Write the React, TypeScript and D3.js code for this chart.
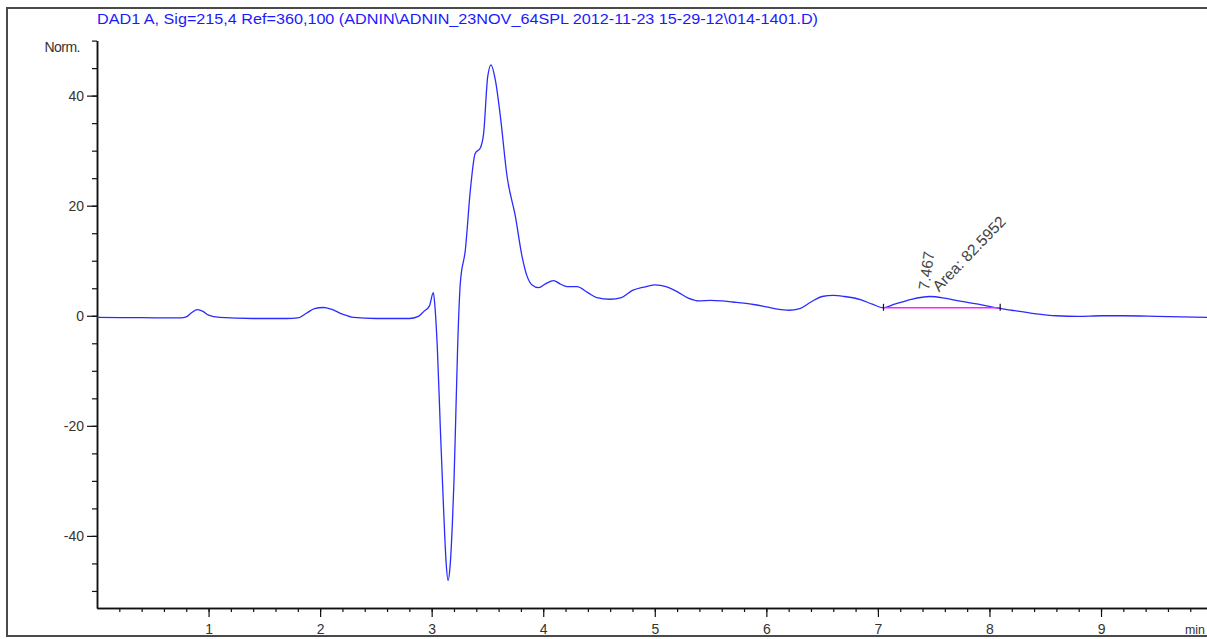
import React, { useEffect, useRef } from 'react';
import * as d3 from 'd3';

// signal trace (time in min, absorbance in mAU)
const times = [
  0, 0.4, 0.75, 0.8, 0.85, 0.9, 0.95, 1.0, 1.1, 1.4, 1.7, 1.8, 1.88, 1.95, 2.03, 2.1, 2.2, 2.3, 2.5, 2.8,
  2.88, 2.93, 2.98, 3.015, 3.03, 3.05, 3.078, 3.108, 3.13, 3.147, 3.165, 3.185, 3.2, 3.213, 3.233, 3.257, 3.302,
  3.347, 3.39, 3.436, 3.466, 3.502, 3.532, 3.571, 3.616, 3.676, 3.75, 3.81, 3.855, 3.9, 3.96, 4.02, 4.093,
  4.15, 4.213, 4.303, 4.4, 4.48, 4.6, 4.7, 4.8, 4.9, 5.0, 5.1, 5.2, 5.3, 5.4, 5.5, 5.6, 5.7, 5.8, 5.9, 6.0,
  6.1, 6.2, 6.3, 6.4, 6.5, 6.6, 6.7, 6.85, 6.95, 7.05, 7.15, 7.3, 7.467, 7.6, 7.75, 7.9, 8.05, 8.2,
  8.4, 8.6, 8.8, 9.0, 9.2, 9.5, 9.95,
];
const signal = [
  -0.3, -0.35, -0.4, -0.2, 0.6, 1.1, 0.8, 0.1, -0.3, -0.5, -0.5, -0.4, 0.5, 1.3, 1.5, 1.2, 0.3, -0.3, -0.5, -0.5,
  -0.1, 0.8, 1.8, 4.2, 1.5, -5.5, -20.6, -35.7, -45, -48.1, -45.5, -38, -30, -20.6, -5.5, 6.0, 12.0,
  22.9, 29.5, 30.5, 33.2, 43.4, 45.6, 42.8, 36.2, 25.3, 18.1, 10.8, 7.2, 5.6, 5.1, 5.8, 6.4,
  5.8, 5.3, 5.3, 4.2, 3.3, 3.0, 3.3, 4.6, 5.2, 5.6, 5.3, 4.4, 3.2, 2.7, 2.8, 2.7, 2.5, 2.3, 2.0, 1.6,
  1.2, 1.0, 1.3, 2.5, 3.5, 3.7, 3.5, 2.9, 2.1, 1.45, 2.1, 3.0, 3.5, 3.2, 2.6, 2.1, 1.5, 1.0,
  0.4, 0.0, -0.1, 0.0, 0.0, -0.1, -0.3,
];

// integrated peak
const peakStart = [7.05, 1.45];
const peakEnd = [8.096, 1.45];
const peakRT = '7.467';
const peakArea = 'Area: 82.5952';
const peakTop = [7.467, 3.5];

const xMajor = [1, 2, 3, 4, 5, 6, 7, 8, 9];
const yMajor = [-40, -20, 0, 20, 40];

const title = 'DAD1 A, Sig=215,4 Ref=360,100 (ADNIN\\ADNIN_23NOV_64SPL 2012-11-23 15-29-12\\014-1401.D)';

const W = 1207;
const H = 639;
const FONT = '"Liberation Sans Narrow", "Liberation Sans", Arial, sans-serif';

const App = () => {
  const svgRef = useRef<SVGSVGElement>(null);

  useEffect(() => {
    const svg = d3.select(svgRef.current);
    svg.selectAll('*').remove();

    const x = d3.scaleLinear().domain([0, 9.95]).range([97, 1207]);
    const y = d3.scaleLinear().domain([-53.1, 50]).range([608, 40.6]);

    // outer frame
    svg.append('rect')
      .attr('x', 7).attr('y', 8).attr('width', 1215).attr('height', 628)
      .attr('fill', 'none').attr('stroke', '#4a4a4a').attr('stroke-width', 2);

    svg.append('text')
      .attr('x', 97).attr('y', 24)
      .attr('textLength', 721).attr('lengthAdjust', 'spacingAndGlyphs')
      .style('font-family', FONT).style('font-size', '14px')
      .attr('fill', '#1a1aff')
      .text(title);

    // y axis: minor then major
    const yMinor = d3.range(-50, 51, 5);
    const gy = svg.append('g').attr('transform', 'translate(97,0)');
    gy.call(d3.axisLeft(y).tickValues(yMinor).tickSize(5).tickFormat(() => '').tickSizeOuter(0));
    gy.append('g').call(d3.axisLeft(y).tickValues(yMajor).tickSize(10).tickPadding(3).tickSizeOuter(0)
      .tickFormat(d => String(d)));
    gy.selectAll('path.domain').attr('stroke', '#111').attr('stroke-width', 1.5);
    gy.selectAll('line').attr('stroke', '#111').attr('stroke-width', 1.2);
    gy.selectAll('text')
      .style('font-family', FONT).style('font-size', '14px').attr('fill', '#333');

    svg.append('text')
      .attr('x', 80).attr('y', 52).attr('text-anchor', 'end')
      .style('font-family', FONT).style('font-size', '14px').style('letter-spacing', '-0.5px').attr('fill', '#333')
      .text('Norm.');

    // x axis: minor then major
    const xMinorT = d3.range(0.2, 9.95, 0.2);
    const gx = svg.append('g').attr('transform', 'translate(0,608)');
    gx.call(d3.axisBottom(x).tickValues(xMinorT).tickSize(4).tickFormat(() => '').tickSizeOuter(0));
    gx.append('g').call(d3.axisBottom(x).tickValues(xMajor).tickSize(9).tickPadding(7).tickSizeOuter(0)
      .tickFormat(d => String(d)));
    gx.selectAll('path.domain').attr('stroke', '#111').attr('stroke-width', 1.5);
    gx.selectAll('line').attr('stroke', '#111').attr('stroke-width', 1.2);
    gx.selectAll('text')
      .style('font-family', FONT).style('font-size', '14px').attr('fill', '#333');

    svg.append('text')
      .attr('x', 1185).attr('y', 634)
      .attr('textLength', 20).attr('lengthAdjust', 'spacingAndGlyphs')
      .style('font-family', FONT).style('font-size', '13px').attr('fill', '#333')
      .text('min');

    // signal
    const pts = times.map((t, i) => [t, signal[i]] as [number, number]);
    const line = d3.line<[number, number]>()
      .x(d => x(d[0]))
      .y(d => y(d[1]))
      .curve(d3.curveMonotoneX);
    svg.append('path')
      .datum(pts)
      .attr('d', line)
      .attr('fill', 'none')
      .attr('stroke', '#2b2bff')
      .attr('stroke-width', 1.3);

    // integration baseline
    svg.append('line')
      .attr('x1', x(peakStart[0])).attr('y1', y(peakStart[1]))
      .attr('x2', x(peakEnd[0])).attr('y2', y(peakEnd[1]))
      .attr('stroke', '#ff22ff').attr('stroke-width', 1.5);
    [peakStart, peakEnd].forEach(p => {
      svg.append('line')
        .attr('x1', x(p[0])).attr('x2', x(p[0]))
        .attr('y1', y(p[1]) - 4).attr('y2', y(p[1]) + 3)
        .attr('stroke', '#111').attr('stroke-width', 1.2);
    });

    // peak labels
    const px = x(peakTop[0]);
    const py = y(peakTop[1]);
    svg.append('text')
      .attr('transform', `translate(${px - 1},${py - 6}) rotate(-82)`)
      .style('font-family', FONT).style('font-size', '15.5px').attr('fill', '#444')
      .text(peakRT);
    svg.append('text')
      .attr('transform', `translate(${px + 9},${py - 4}) rotate(-46)`)
      .style('font-family', FONT).style('font-size', '15.5px').attr('fill', '#444')
      .text(peakArea);
  }, []);

  return (
    <div style={{ position: 'absolute', left: 0, top: 0 }}>
      <svg ref={svgRef} width={W} height={H} style={{ display: 'block', background: '#fff' }}></svg>
    </div>
  );
};

export default App;
